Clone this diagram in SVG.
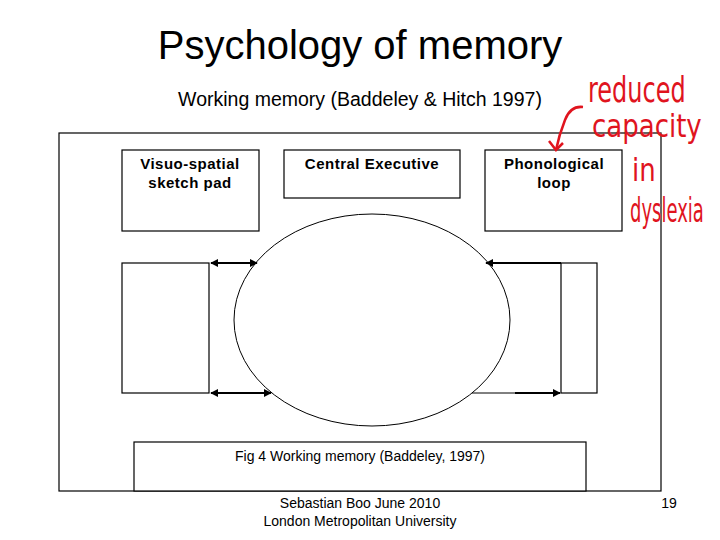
<svg xmlns="http://www.w3.org/2000/svg" width="720" height="540" viewBox="0 0 720 540">
<style>
.box{fill:#fff;stroke:#000;stroke-width:1.2}
.ln{fill:none;stroke:#000;stroke-width:1}
.arr{fill:none;stroke:#000;stroke-width:2}
.lbl{font-family:"Liberation Sans",Arial,sans-serif;font-size:15px;font-weight:bold;text-anchor:middle;fill:#000;letter-spacing:0.5px}
.txt{font-family:"Liberation Sans",Arial,sans-serif;text-anchor:middle;fill:#000}
.hand{font-family:"DejaVu Sans",sans-serif;fill:#e0141e}
</style>
<defs>
<marker id="ah" viewBox="0 0 10 10" refX="9" refY="5" markerWidth="4" markerHeight="4" orient="auto-start-reverse">
<path d="M0,0 L10,5 L0,10 z" fill="#000"/>
</marker>
</defs>
<rect width="720" height="540" fill="#fff"/>
<text class="txt" x="360" y="59" font-size="40">Psychology of memory</text>
<text class="txt" x="360" y="106" font-size="19.5">Working memory (Baddeley &amp; Hitch 1997)</text>
<rect id="frame" x="59" y="133" width="602" height="358" class="box"/>
<g id="visuo"><rect x="122" y="150" width="137" height="81" class="box"/><text class="lbl" x="190" y="169">Visuo-spatial</text><text class="lbl" x="190" y="188">sketch pad</text></g>
<g id="central"><rect x="284" y="150" width="176" height="48" class="box"/><text class="lbl" x="372" y="169">Central Executive</text></g>
<g id="phono"><rect x="485" y="150" width="137" height="81" class="box"/><text class="lbl" x="554" y="169">Phonological</text><text class="lbl" x="554" y="188">loop</text></g>
<g id="ellipse"><ellipse cx="372" cy="320" rx="138" ry="106" class="ln" fill="#fff"/></g>
<g id="leftbox"><rect x="122" y="263" width="87" height="130" class="box"/></g>
<g id="rightbox"><rect x="561" y="263" width="36" height="130" class="box"/></g>
<g id="caption"><rect x="134" y="442" width="452" height="49" class="box"/><text class="txt" x="360" y="461" font-size="14">Fig 4 Working memory (Baddeley, 1997)</text></g>
<g id="connectors">
<line x1="211" y1="263" x2="257" y2="263" class="arr" marker-start="url(#ah)" marker-end="url(#ah)"/>
<line x1="211" y1="393" x2="271" y2="393" class="arr" marker-start="url(#ah)" marker-end="url(#ah)"/>
<line x1="561" y1="263" x2="486" y2="263" class="arr" marker-end="url(#ah)"/>
<line x1="472" y1="393" x2="515" y2="393" class="ln"/>
<line x1="515" y1="393" x2="560" y2="393" class="arr" marker-end="url(#ah)"/>
</g>
<text class="txt" x="360" y="508" font-size="14">Sebastian Boo June 2010</text>
<text class="txt" x="360" y="526" font-size="14">London Metropolitan University</text>
<text x="669" y="508" font-size="14" font-family="Liberation Sans,Arial,sans-serif" text-anchor="middle">19</text>
<g id="annotation">
<path d="M583,107 C574,106 568,112 565,120 C561,130 558,140 556,150" fill="none" stroke="#e0141e" stroke-width="2.5"/>
<path d="M549,141 L556,150 L563,143" fill="none" stroke="#e0141e" stroke-width="2.5"/>
<text class="hand" font-size="24" transform="translate(588,102) scale(1,1.45)">reduced</text>
<text class="hand" font-size="26" transform="translate(592,137) scale(1,1.25)">capacity</text>
<text class="hand" font-size="26" transform="translate(632,181) scale(1,1.2)">in</text>
<text class="hand" font-size="18" transform="translate(630,222) scale(1,1.9)">dyslexia</text>
</g>
</svg>
